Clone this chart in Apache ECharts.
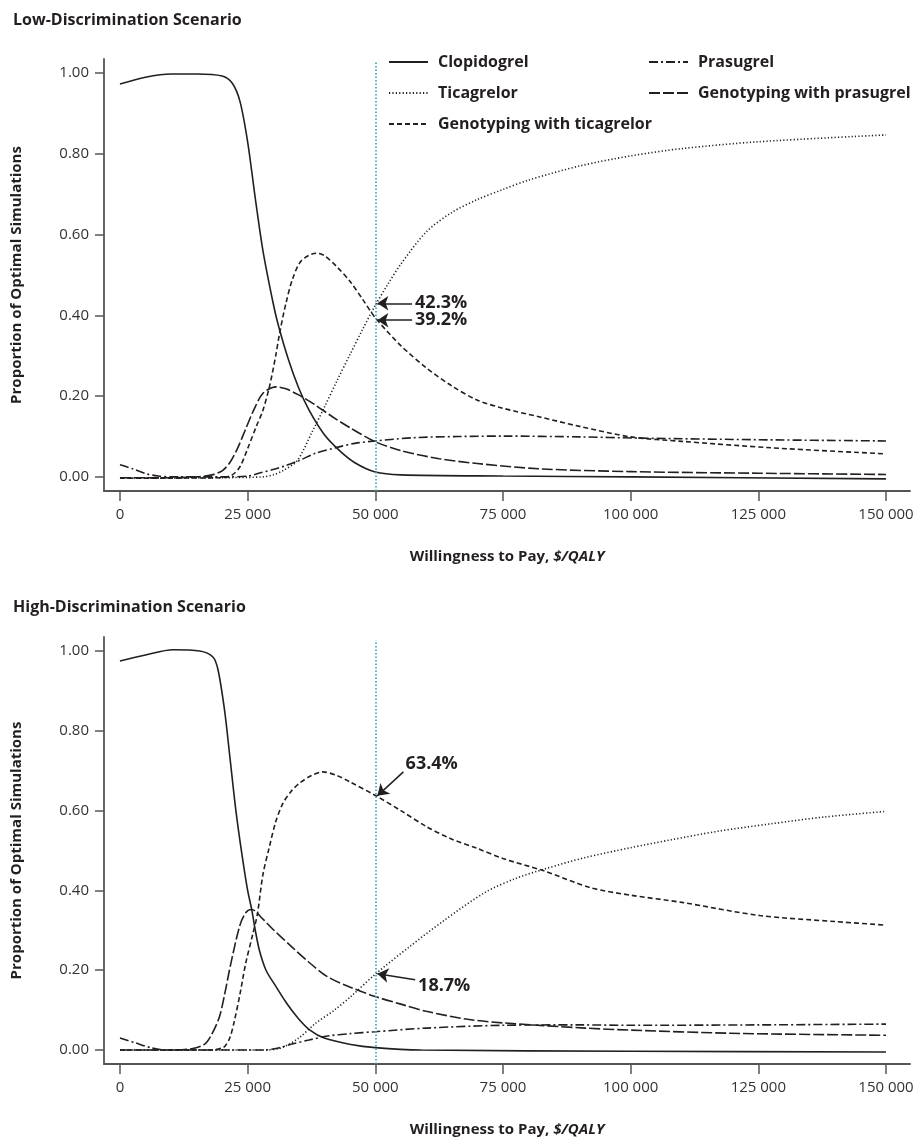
<!DOCTYPE html>
<html>
<head>
<meta charset="utf-8">
<script src="https://cdn.jsdelivr.net/npm/echarts@6/dist/echarts.min.js"></script>
<style>
html, body { margin: 0; padding: 0; background: #fff; }
#chart { width: 917px; height: 1138px; }
</style>
</head>
<body>
<div id="chart"></div>
<script>
// axis ticks
var xTicks = [0, 25000, 50000, 75000, 100000, 125000, 150000];
var xTickLabels = ['0', '25 000', '50 000', '75 000', '100 000', '125 000', '150 000'];
var yTicks = [0, 0.2, 0.4, 0.6, 0.8, 1.0];
var yTickLabels = ['0.00', '0.20', '0.40', '0.60', '0.80', '1.00'];

// low-discrimination scenario
var clopidogrelLow = [[0,0.973],[5000,0.99],[10000,0.998],[15000,0.998],[20000,0.993],[22000,0.975],[23500,0.93],[25000,0.83],[26500,0.69],[28000,0.56],[30000,0.43],[31000,0.376],[33000,0.29],[35000,0.22],[37000,0.166],[40000,0.105],[43000,0.065],[46000,0.035],[50000,0.012],[55000,0.005],[75000,0.002],[100000,0.0],[150000,-0.005]];
var ticagrelorLow = [[0,-0.003],[10000,-0.003],[20000,-0.002],[28000,0.0],[30000,0.005],[32000,0.016],[34700,0.04],[37500,0.108],[40000,0.172],[42500,0.238],[45000,0.302],[47500,0.365],[50000,0.425],[52500,0.478],[55000,0.527],[60000,0.607],[65000,0.655],[70000,0.687],[75000,0.712],[80000,0.735],[90000,0.77],[100000,0.795],[110000,0.813],[125000,0.83],[150000,0.847]];
var genoTicLow = [[0,-0.003],[10000,-0.003],[20000,-0.002],[22000,0.005],[23500,0.025],[25000,0.07],[26700,0.125],[28000,0.165],[29300,0.225],[30500,0.3],[31250,0.355],[32500,0.43],[33800,0.49],[35500,0.535],[38400,0.554],[40000,0.548],[42500,0.52],[45000,0.485],[47500,0.44],[50000,0.394],[55000,0.325],[60000,0.27],[65000,0.225],[70000,0.19],[75000,0.17],[82000,0.149],[90000,0.125],[100000,0.099],[110000,0.088],[127500,0.072],[150000,0.057]];
var prasugrelLow = [[0,0.03],[2500,0.02],[5000,0.008],[7500,0.002],[10000,0.0],[20000,0.0],[25000,0.002],[27500,0.01],[30000,0.018],[32500,0.028],[35000,0.04],[38400,0.059],[42500,0.073],[46000,0.083],[50000,0.089],[57500,0.097],[66400,0.1],[75000,0.101],[90000,0.099],[101600,0.096],[125000,0.092],[150000,0.089]];
var genoPraLow = [[0,-0.002],[10000,-0.002],[15000,0.0],[18000,0.005],[20000,0.015],[21500,0.035],[23000,0.07],[24500,0.115],[26000,0.16],[28000,0.207],[30600,0.223],[32500,0.218],[35000,0.203],[38000,0.18],[41600,0.149],[45000,0.122],[50000,0.087],[55000,0.065],[62500,0.045],[70000,0.033],[82000,0.02],[100000,0.013],[125000,0.009],[150000,0.006]];

// high-discrimination scenario
var clopidogrelHigh = [[0,0.975],[5000,0.99],[10400,1.003],[15600,1.0],[18200,0.985],[19200,0.953],[20500,0.85],[21500,0.737],[22700,0.6],[24000,0.48],[25000,0.4],[25800,0.352],[26500,0.3],[27300,0.25],[28600,0.2],[30500,0.16],[32600,0.118],[35000,0.078],[37200,0.05],[40000,0.03],[45200,0.014],[50000,0.006],[59000,0.0],[100000,-0.003],[150000,-0.005]];
var ticagrelorHigh = [[0,0.0],[20000,0.0],[28000,0.0],[31500,0.005],[35000,0.03],[38300,0.067],[42000,0.1],[45200,0.134],[50000,0.19],[56600,0.258],[63500,0.325],[71500,0.395],[77500,0.43],[83500,0.455],[91000,0.482],[100000,0.507],[108000,0.527],[117000,0.548],[127500,0.567],[138000,0.584],[150000,0.598]];
var genoTicHigh = [[0,0.0],[10000,0.0],[18000,0.0],[20000,0.005],[20600,0.01],[21500,0.03],[22300,0.067],[23500,0.14],[24600,0.216],[26000,0.29],[26900,0.34],[28000,0.44],[29200,0.506],[30500,0.572],[31900,0.618],[33500,0.648],[35100,0.668],[37500,0.688],[39700,0.697],[42500,0.688],[45000,0.672],[50000,0.638],[55000,0.6],[60000,0.56],[64700,0.53],[70000,0.505],[75000,0.48],[83000,0.449],[92100,0.407],[100000,0.388],[110000,0.37],[125300,0.337],[140000,0.322],[150000,0.313]];
var prasugrelHigh = [[0,0.03],[3000,0.018],[6000,0.006],[9000,0.0],[20000,0.0],[28000,0.0],[31000,0.005],[33700,0.015],[37000,0.025],[40600,0.035],[45000,0.041],[50000,0.046],[60000,0.055],[75000,0.062],[90000,0.063],[100000,0.062],[125000,0.063],[150000,0.065]];
var genoPraHigh = [[0,0.0],[10000,0.0],[14000,0.003],[16600,0.015],[18000,0.04],[19500,0.084],[20500,0.14],[21700,0.216],[23500,0.313],[24700,0.345],[25800,0.352],[28000,0.328],[30000,0.302],[33700,0.258],[37000,0.22],[40600,0.184],[45000,0.158],[50000,0.134],[55000,0.115],[60000,0.097],[68100,0.077],[75000,0.068],[91000,0.055],[100000,0.05],[119600,0.042],[150000,0.037]];

// annotations at $50 000/QALY
var wtpMark = 50000;
var annLowText = ['42.3%', '39.2%'];
var annLowValue = [0.43, 0.388];
var annHighText = ['63.4%', '18.7%'];
var annHighValue = [0.637, 0.191];

var FONT = 'Open Sans';
var INK = '#231f20';
var AXIS = '#555';

var dashes = {
	'Clopidogrel' : 'solid',
	'Ticagrelor' : [1.2, 2.2],
	'Genotyping with ticagrelor' : [5, 3],
	'Prasugrel' : [9, 3, 2, 3],
	'Genotyping with prasugrel' : [11, 3]
};

function lineSeries(name, data, gi) {
	return {
		name : name,
		type : 'line',
		xAxisIndex : gi,
		yAxisIndex : gi,
		data : data,
		smooth : 0.3,
		symbol : 'none',
		color : INK,
		lineStyle : {
			color : INK,
			width : 1.6,
			type : dashes[name]
		},
		emphasis : { disabled : true },
		z : 3
	};
}

function arrow(from, to, text, labelOffset) {
	var lbl = {
		show : true,
		position : 'end',
		formatter : text,
		align : 'left',
		verticalAlign : 'middle',
		distance : 3,
		offset : labelOffset || [0, 0],
		color : INK,
		fontFamily : FONT,
		fontSize : 18,
		fontWeight : 'bold'
	};
	var ls = { color : INK, width : 1.5, type : 'solid' };
	return [ {
		coord : from,
		symbol : 'arrow',
		symbolSize : 11,
		lineStyle : ls,
		label : lbl
	}, {
		coord : to,
		symbol : 'none',
		lineStyle : ls,
		label : lbl
	} ];
}

function wtpLine() {
	var ls = { color : '#3aa6b2', width : 1.7, type : [1.5, 2] };
	return [ {
		coord : [wtpMark, -0.035],
		symbol : 'none',
		lineStyle : ls,
		label : { show : false }
	}, {
		coord : [wtpMark, 1.027],
		symbol : 'none',
		lineStyle : ls,
		label : { show : false }
	} ];
}

function annSeries(gi, items) {
	return {
		name : 'annotations' + gi,
		type : 'line',
		xAxisIndex : gi,
		yAxisIndex : gi,
		data : [],
		markLine : {
			silent : true,
			animation : false,
			data : items
		},
		z : 4
	};
}

function xAxisFor(gi) {
	return {
		type : 'value',
		gridIndex : gi,
		min : -3125,
		max : 154700,
		axisLine : { show : true, onZero : false, lineStyle : { color : AXIS, width : 1.8 } },
		axisTick : { show : true, customValues : xTicks, length : 10, lineStyle : { color : AXIS, width : 1.5 } },
		axisLabel : {
			customValues : xTicks,
			formatter : function(v) {
				return xTickLabels[xTicks.indexOf(v)];
			},
			margin : 16,
			color : '#333',
			fontFamily : FONT,
			fontSize : 15
		},
		splitLine : { show : false },
		name : '{a|Willingness to Pay, }{b|$/QALY}',
		nameLocation : 'middle',
		nameGap : 58,
		nameTextStyle : {
			rich : {
				a : { fontFamily : FONT, fontSize : 15, fontWeight : 'bold', color : INK },
				b : { fontFamily : FONT, fontSize : 15, fontWeight : 'bold', fontStyle : 'italic', color : INK }
			}
		}
	};
}

function yAxisFor(gi) {
	return {
		type : 'value',
		gridIndex : gi,
		min : -0.035,
		max : 1.035,
		axisLine : { show : true, onZero : false, lineStyle : { color : AXIS, width : 1.8 } },
		axisTick : { show : true, customValues : yTicks, length : 9, lineStyle : { color : AXIS, width : 1.5 } },
		axisLabel : {
			customValues : yTicks,
			formatter : function(v) {
				var i = 0;
				for (var k = 0; k < yTicks.length; k++) {
					if (Math.abs(yTicks[k] - v) < 1e-6) i = k;
				}
				return yTickLabels[i];
			},
			margin : 15,
			color : '#333',
			fontFamily : FONT,
			fontSize : 15
		},
		splitLine : { show : false },
		name : 'Proportion of Optimal Simulations',
		nameLocation : 'middle',
		nameGap : 80,
		nameTextStyle : { fontFamily : FONT, fontSize : 15, fontWeight : 'bold', color : INK }
	};
}

var myChart = echarts.init(document.getElementById('chart'), null, { renderer : 'canvas' });

var legendText = { fontFamily : FONT, fontSize : 16, fontWeight : 'bold', color : INK, padding : [0, 0, 0, 5] };

function legendBlock(names, left) {
	return {
		data : names,
		orient : 'vertical',
		left : left,
		top : 54,
		padding : 0,
		itemWidth : 39,
		itemHeight : 14,
		itemGap : 15,
		selectedMode : false,
		itemStyle : { opacity : 0 },
		textStyle : legendText
	};
}

var option = {
	animation : false,
	backgroundColor : '#fff',
	title : [ {
		text : 'Low-Discrimination Scenario',
		left : 13,
		top : 12,
		padding : 0,
		textStyle : { fontFamily : FONT, fontSize : 16, fontWeight : 'bold', color : INK }
	}, {
		text : 'High-Discrimination Scenario',
		left : 13,
		top : 599,
		padding : 0,
		textStyle : { fontFamily : FONT, fontSize : 16, fontWeight : 'bold', color : INK }
	} ],
	legend : [
		legendBlock([ 'Clopidogrel', 'Ticagrelor', 'Genotyping with ticagrelor' ], 388),
		legendBlock([ 'Prasugrel', 'Genotyping with prasugrel' ], 648)
	],
	grid : [ {
		left : 104,
		right : 7,
		top : 59,
		height : 432
	}, {
		left : 104,
		right : 7,
		top : 637,
		height : 432
	} ],
	xAxis : [ xAxisFor(0), xAxisFor(1) ],
	yAxis : [ yAxisFor(0), yAxisFor(1) ],
	series : [
		lineSeries('Clopidogrel', clopidogrelLow, 0),
		lineSeries('Ticagrelor', ticagrelorLow, 0),
		lineSeries('Genotyping with ticagrelor', genoTicLow, 0),
		lineSeries('Prasugrel', prasugrelLow, 0),
		lineSeries('Genotyping with prasugrel', genoPraLow, 0),
		annSeries(0, [
			wtpLine(),
			arrow([50400, annLowValue[0]], [57200, annLowValue[0]], annLowText[0]),
			arrow([50400, annLowValue[1]], [57200, annLowValue[1]], annLowText[1])
		]),
		lineSeries('Clopidogrel', clopidogrelHigh, 1),
		lineSeries('Ticagrelor', ticagrelorHigh, 1),
		lineSeries('Genotyping with ticagrelor', genoTicHigh, 1),
		lineSeries('Prasugrel', prasugrelHigh, 1),
		lineSeries('Genotyping with prasugrel', genoPraHigh, 1),
		annSeries(1, [
			wtpLine(),
			arrow([50400, annHighValue[0]], [55500, 0.697], annHighText[0], [0, -6]),
			arrow([50400, annHighValue[1]], [57800, 0.176], annHighText[1], [0, 6])
		])
	]
};
myChart.setOption(option);
</script>
</body>
</html>
